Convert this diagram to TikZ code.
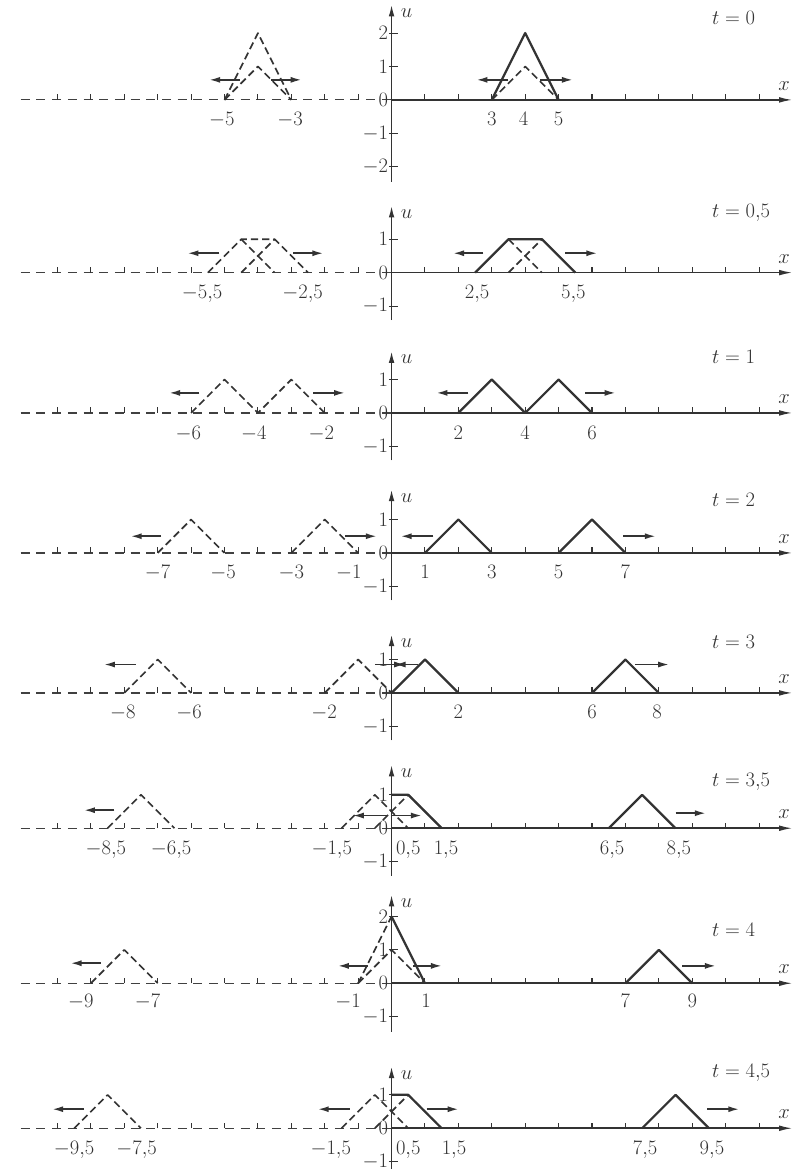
\documentclass[tikz,border=0pt]{standalone}
\usepackage{fix-cm}
\usetikzlibrary{arrows.meta}

\begin{document}
\begin{tikzpicture}[
    font=\fontsize{17.5}{21}\selectfont,
    line join=round,
    axis/.style={line width=1.3pt, black!80},
    dashaxis/.style={line width=1pt, black!75, dash pattern=on 0.27cm off 0.2cm},
    wave/.style={line width=1.9pt, black!80},
    halfwave/.style={line width=1.4pt, black!80, dash pattern=on 0.22cm off 0.12cm},
    move/.style={line width=1.3pt, black!80, -{Latex[length=3.2mm, width=1.8mm]}},
    tick/.style={line width=0.9pt, black!80},
    lab/.style={text=black!80, inner sep=0pt},
    xlab/.style={lab, anchor=base},
]

% page frame
\useasboundingbox (-11.72,-32.0) rectangle (12.35,2.99);

% axes of the eight snapshots
\foreach \yy/\utop/\ubot/\ulist/\th/\tval [count=\i] in {
    0/2.85/-2.45/{2,1,-1,-2}/2.45/0,
    -5.17/2.0/-1.42/{1,-1}/1.79/0{,}5,
    -9.37/1.85/-1.42/{1,-1}/1.68/1,
    -13.56/1.9/-1.42/{1,-1}/1.59/2,
    -17.75/1.75/-1.42/{1,-1}/1.54/3,
    -21.8/1.9/-1.42/{1,-1}/1.4/3{,}5,
    -26.44/2.65/-1.45/{2,1,-1}/1.59/4,
    -30.78/1.85/-1.3/{1,-1}/1.65/4{,}5}
{
  \begin{scope}[yshift=\yy cm]
    \draw[dashaxis] (-11.1,0) -- (0,0);
    \draw[axis, -{Latex[length=4mm, width=1.7mm]}] (0,0) -- (12,0);
    \draw[axis, -{Latex[length=3.5mm, width=1.7mm]}] (0,\ubot) -- (0,\utop);
    \foreach \k in {-10,...,-1,1,2,...,11}
      \draw[tick] (\k,0) -- (\k,0.17);
    \foreach \k [count=\j] in \ulist {
      \draw[tick] (-0.08,\k) -- (0.18,\k);
      \node[lab, anchor=east] (u\i-\j) at (-0.1,\k) {$\k$};
    }
    \node[lab, anchor=east] (zero\i) at (-0.1,0) {$0$};
    \node[lab] (u\i) at (0.45,\utop-0.25) {$u$};
    \node[lab] (x\i) at (11.75,0.42) {$x$};
    \node[lab, anchor=west] (t\i) at (9.59,\th) {$t = \tval$};
  \end{scope}
}

% t = 0
\begin{scope}[yshift=0cm]
  \draw[halfwave] (-5,0) -- (-4,2) -- (-3,0);
  \draw[halfwave] (-5,0) -- (-4,1) -- (-3,0);
  \draw[wave] (3,0) -- (4,2) -- (5,0);
  \draw[halfwave] (3,0) -- (4,1) -- (5,0);
  \draw[move] (-4.55,0.6) -- (-5.45,0.6);
  \draw[move] (-3.6,0.6) -- (-2.7,0.6);
  \draw[move] (3.5,0.6) -- (2.55,0.6);
  \draw[move] (4.45,0.6) -- (5.42,0.6);
  \foreach \p/\s [count=\j] in {-5.08/-5, -3.04/-3, 3/3, 3.95/4, 5/5}
    \node[xlab] (a\j) at (\p,-0.78) {$\s$};
\end{scope}

% t = 0,5
\begin{scope}[yshift=-5.17cm]
  \draw[halfwave] (-5.5,0) -- (-4.5,1) -- (-3.5,1) -- (-2.5,0);
  \draw[halfwave] (-4.5,1) -- (-3.5,0);
  \draw[halfwave] (-4.5,0) -- (-3.5,1);
  \draw[wave] (2.5,0) -- (3.5,1) -- (4.5,1) -- (5.5,0);
  \draw[halfwave] (3.5,1) -- (4.5,0);
  \draw[halfwave] (3.5,0) -- (4.5,1);
  \draw[move] (-5.15,0.58) -- (-6.1,0.58);
  \draw[move] (-2.95,0.58) -- (-2.05,0.58);
  \draw[move] (2.75,0.58) -- (1.85,0.58);
  \draw[move] (5.2,0.58) -- (6.15,0.58);
  \foreach \p/\s [count=\j] in {-5.67/-5{,}5, -2.66/-2{,}5, 2.56/2{,}5, 5.44/5{,}5}
    \node[xlab] (b\j) at (\p,-0.78) {$\s$};
\end{scope}

% t = 1
\begin{scope}[yshift=-9.37cm]
  \draw[halfwave] (-6,0) -- (-5,1) -- (-4,0) -- (-3,1) -- (-2,0);
  \draw[wave] (2,0) -- (3,1) -- (4,0) -- (5,1) -- (6,0);
  \draw[move] (-5.75,0.6) -- (-6.65,0.6);
  \draw[move] (-2.35,0.6) -- (-1.4,0.6);
  \draw[move] (2.3,0.6) -- (1.35,0.6);
  \draw[move] (5.8,0.6) -- (6.7,0.6);
  \foreach \p/\s [count=\j] in {-6.08/-6, -4.12/-4, -2.1/-2, 2/2, 4/4, 6/6}
    \node[xlab] (c\j) at (\p,-0.78) {$\s$};
\end{scope}

% t = 2
\begin{scope}[yshift=-13.56cm]
  \draw[halfwave] (-7,0) -- (-6,1) -- (-5,0);
  \draw[halfwave] (-3,0) -- (-2,1) -- (-1,0);
  \draw[wave] (1,0) -- (2,1) -- (3,0);
  \draw[wave] (5,0) -- (6,1) -- (7,0);
  \draw[move] (-6.9,0.5) -- (-7.8,0.5);
  \draw[move] (-1.4,0.5) -- (-0.45,0.5);
  \draw[move] (1.25,0.5) -- (0.28,0.5);
  \draw[move] (6.93,0.5) -- (7.9,0.5);
  \foreach \p/\s [count=\j] in {-7/-7, -5.04/-5, -3/-3, -1.28/-1, 1/1, 3/3, 5/5, 7/7}
    \node[xlab] (d\j) at (\p,-0.78) {$\s$};
\end{scope}

% t = 3
\begin{scope}[yshift=-17.75cm]
  \draw[halfwave] (-8,0) -- (-7,1) -- (-6,0);
  \draw[halfwave] (-2,0) -- (-1,1) -- (0,0);
  \draw[wave] (0,0) -- (1,1) -- (2,0);
  \draw[wave] (6,0) -- (7,1) -- (8,0);
  \draw[move] (-7.65,0.85) -- (-8.6,0.85);
  \draw[move] (-0.5,0.85) -- (0.4,0.85);
  \draw[move] (0.8,0.85) -- (0.1,0.85);
  \draw[move] (7.3,0.85) -- (8.3,0.85);
  \foreach \p/\s [count=\j] in {-8.04/-8, -6.06/-6, -2.02/-2, 2/2, 6/6, 7.95/8}
    \node[xlab] (e\j) at (\p,-0.78) {$\s$};
\end{scope}

% t = 3,5
\begin{scope}[yshift=-21.8cm]
  \draw[halfwave] (-8.5,0) -- (-7.5,1) -- (-6.5,0);
  \draw[halfwave] (-1.5,0) -- (-0.5,1) -- (0.5,0);
  \draw[halfwave] (-0.5,0) -- (0.5,1) -- (1.5,0);
  \draw[wave] (0,1) -- (0.5,1) -- (1.5,0);
  \draw[wave] (6.5,0) -- (7.5,1) -- (8.5,0);
  \draw[move] (-8.3,0.54) -- (-9.2,0.54);
  \draw[move] (-0.1,0.38) -- (-1.15,0.38);
  \draw[move] (0,0.38) -- (0.9,0.38);
  \draw[move] (8.5,0.45) -- (9.4,0.45);
  \foreach \p/\s [count=\j] in {-8.55/-8{,}5, -6.6/-6{,}5, -1.79/-1{,}5, 0.5/0{,}5, 1.63/1{,}5, 6.6/6{,}5, 8.6/8{,}5}
    \node[xlab] (f\j) at (\p,-0.78) {$\s$};
\end{scope}

% t = 4
\begin{scope}[yshift=-26.44cm]
  \draw[halfwave] (-9,0) -- (-8,1) -- (-7,0);
  \draw[halfwave] (-1,0) -- (0,2);
  \draw[halfwave] (-1,0) -- (0,1) -- (1,0);
  \draw[wave] (0,2) -- (1,0);
  \draw[wave] (7,0) -- (8,1) -- (9,0);
  \draw[move] (-8.7,0.6) -- (-9.6,0.6);
  \draw[move] (-0.7,0.52) -- (-1.6,0.52);
  \draw[move] (0.65,0.52) -- (1.5,0.52);
  \draw[move] (8.7,0.52) -- (9.7,0.52);
  \foreach \p/\s [count=\j] in {-9.3/-9, -7.3/-7, -1.3/-1, 1.03/1, 7/7, 9/9}
    \node[xlab] (g\j) at (\p,-0.72) {$\s$};
\end{scope}

% t = 4,5
\begin{scope}[yshift=-30.78cm]
  \draw[halfwave] (-9.5,0) -- (-8.5,1) -- (-7.5,0);
  \draw[halfwave] (-1.5,0) -- (-0.5,1) -- (0.5,0);
  \draw[halfwave] (-0.5,0) -- (0.5,1) -- (1.5,0);
  \draw[wave] (0,1) -- (0.5,1) -- (1.5,0);
  \draw[wave] (7.5,0) -- (8.5,1) -- (9.5,0);
  \draw[move] (-9.2,0.57) -- (-10.15,0.57);
  \draw[move] (-1.25,0.57) -- (-2.2,0.57);
  \draw[move] (1.05,0.57) -- (2,0.57);
  \draw[move] (9.45,0.57) -- (10.4,0.57);
  \foreach \p/\s [count=\j] in {-9.5/-9{,}5, -7.63/-7{,}5, -1.82/-1{,}5, 0.5/0{,}5, 1.87/1{,}5, 7.59/7{,}5, 9.59/9{,}5}
    \node[xlab] (h\j) at (\p,-0.78) {$\s$};
\end{scope}

\end{tikzpicture}
\end{document}
